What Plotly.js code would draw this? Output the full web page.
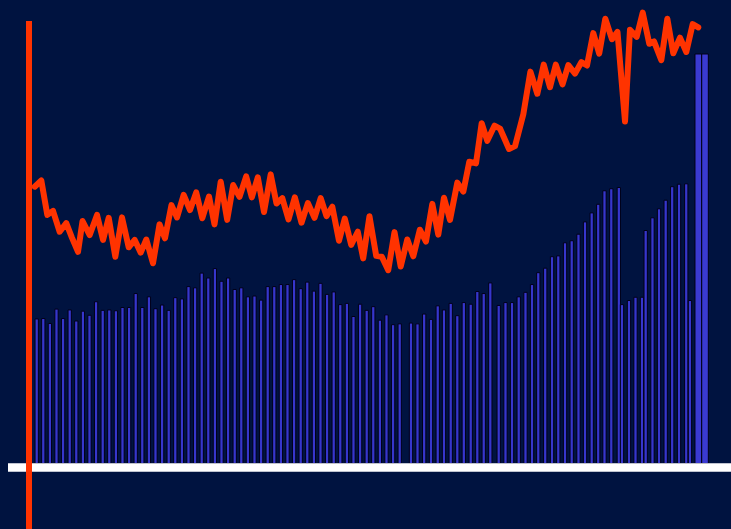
<!DOCTYPE html>
<html>
<head>
<meta charset="utf-8">
<script src="https://cdn.plot.ly/plotly-3.0.1.min.js"></script>
<style>
  html, body { margin: 0; padding: 0; background: #001340; }
  #chart { width: 731px; height: 529px; }
  .scatterlayer path.js-line { stroke-linejoin: round !important; stroke-linecap: round !important; }
</style>
</head>
<body>
<div id="chart"></div>
<script>
// Bar series: sample times (in periods) and values
const barT = [
  0, 1, 2, 3, 4, 5, 6, 7, 8, 9,
  10, 11, 12, 13, 14, 15, 16, 17, 18, 19,
  20, 21, 22, 23, 24, 25, 26, 27, 28, 29,
  30, 31, 32, 33, 34, 35, 36, 37, 38, 39,
  40, 41, 42, 43, 44, 45, 46, 47, 48, 49,
  50, 51, 52, 53, 54, 55, 56.71, 57.70, 58.71, 59.74,
  60.76, 61.71, 62.73, 63.73, 64.71, 65.76, 66.76, 67.73, 68.73, 70.00,
  71.03, 72.02, 73.03, 74.06, 75.05, 76.00, 77.05, 78.08, 79.03, 80.05,
  81.06, 82.09, 83.08, 84.09, 85.08, 86.03, 87.06, 88.20, 88.68, 89.74,
  90.73, 91.71, 92.27, 93.30, 94.29, 95.30, 96.29, 97.32, 98.42, 98.98,
  100.24, 101.26
];
const barValues = [
  35.3, 35.4, 34.2, 37.7, 35.4, 37.5, 34.8, 37.2, 36.2, 39.5,
  37.4, 37.5, 37.3, 38.1, 38.1, 41.5, 38.1, 40.7, 37.8, 38.7,
  37.4, 40.5, 40.2, 43.2, 42.9, 46.5, 45.3, 47.6, 44.5, 45.3,
  42.5, 42.9, 40.7, 40.9, 39.9, 43.2, 43.2, 43.7, 43.7, 44.9,
  42.7, 44.3, 42.1, 44.0, 41.3, 41.9, 38.8, 39.1, 35.9, 38.9,
  37.4, 38.3, 35.0, 36.3, 33.9, 34.1, 34.3, 34.1, 36.5, 35.2,
  38.5, 37.5, 39.1, 36.1, 39.3, 38.9, 42.0, 41.5, 44.1, 38.6,
  39.3, 39.3, 40.7, 41.8, 43.7, 46.6, 47.7, 50.5, 50.7, 53.9,
  54.4, 56.0, 59.0, 61.2, 63.3, 66.6, 67.1, 67.4, 38.8, 39.8,
  40.6, 40.6, 56.9, 60.0, 62.2, 64.3, 67.6, 68.2, 68.3, 39.8,
  100.0, 100.0
];

// Line series: sample times (in periods) and values
const lineT = [
  -0.30, 0.70, 1.61, 2.47, 3.48, 4.48, 5.35, 6.26, 6.94, 8.03,
  9.14, 10.05, 10.91, 11.91, 12.92, 13.94, 14.85, 15.76, 16.61, 17.62,
  18.61, 19.44, 20.42, 21.26, 22.27, 23.23, 24.17, 25.09, 26.11, 26.94,
  27.88, 28.86, 29.77, 30.73, 31.74, 32.59, 33.50, 34.44, 35.45, 36.33,
  37.21, 38.15, 39.11, 40.12, 41.08, 42.09, 43.03, 43.91, 44.79, 45.80,
  46.68, 47.65, 48.65, 49.47, 50.42, 51.44, 52.29, 53.26, 54.21, 55.15,
  56.15, 57.06, 58.05, 58.98, 59.94, 60.85, 61.71, 62.62, 63.73, 64.64,
  65.55, 66.56, 67.42, 68.27, 69.36, 70.20, 71.56, 72.47, 73.73, 74.80,
  75.85, 76.82, 77.77, 78.65, 79.67, 80.55, 81.56, 82.52, 83.38, 84.33,
  85.23, 86.15, 87.17, 88.00, 89.14, 89.89, 90.91, 91.82, 92.82, 93.53,
  94.64, 95.55, 96.45, 97.47, 98.42, 99.39, 100.24
];
const lineValues = [
  67.6, 69.1, 60.7, 61.7, 56.6, 58.7, 55.1, 51.7, 59.2, 55.8,
  60.7, 54.6, 60.0, 50.5, 60.1, 52.8, 54.6, 51.5, 54.7, 48.9,
  58.4, 55.0, 63.1, 60.1, 65.6, 61.9, 66.2, 59.9, 65.2, 58.4,
  68.8, 59.5, 68.0, 65.1, 70.1, 65.0, 69.9, 61.4, 70.6, 63.5,
  64.8, 59.6, 65.0, 58.8, 63.6, 60.0, 64.8, 60.4, 62.7, 54.4,
  59.8, 53.4, 56.6, 50.1, 60.4, 50.7, 50.5, 47.2, 56.5, 48.1,
  54.7, 50.6, 57.1, 54.2, 63.4, 55.9, 64.9, 59.5, 68.6, 66.4,
  73.7, 73.3, 83.1, 78.8, 82.5, 81.8, 76.8, 77.5, 85.3, 95.7,
  90.3, 97.4, 91.9, 97.4, 92.6, 97.3, 95.2, 98.0, 97.2, 105.1,
  100.1, 108.6, 103.6, 105.4, 83.5, 105.9, 104.2, 110.1, 102.5, 103.1,
  98.5, 108.6, 100.2, 104.0, 100.5, 107.3, 106.5
];

const barWidths = barValues.map((_, i) => (i >= 100 ? 1.0 : 0.5));
const barColors = barValues.map((_, i) => (i >= 100 ? '#3a3ad2' : '#3636cc'));

const RED = '#ff3300';

const traces = [
  {
    type: 'bar',
    x: barT,
    y: barValues,
    width: barWidths,
    marker: { color: barColors, line: { color: '#000018', width: 1 } },
    hoverinfo: 'skip'
  },
  {
    type: 'scatter',
    mode: 'lines',
    x: lineT,
    y: lineValues,
    line: { color: RED, width: 6 },
    hoverinfo: 'skip'
  }
];

const layout = {
  width: 731,
  height: 529,
  margin: { l: 0, r: 0, t: 0, b: 0, pad: 0 },
  paper_bgcolor: '#001340',
  plot_bgcolor: '#001340',
  showlegend: false,
  hovermode: false,
  bargap: 0,
  xaxis: {
    range: [-5.561, 105.197],
    showgrid: false, zeroline: false, showticklabels: false, showline: false, ticks: ''
  },
  yaxis: {
    range: [-15.995, 113.19],
    showgrid: false, zeroline: false, showticklabels: false, showline: false, ticks: ''
  },
  shapes: [
    {
      type: 'line', xref: 'paper', yref: 'paper',
      x0: 8 / 731, x1: 1.05, y0: (529 - 467.5) / 529, y1: (529 - 467.5) / 529,
      line: { color: '#ffffff', width: 8.4 }, layer: 'above'
    },
    {
      type: 'line', xref: 'paper', yref: 'paper',
      x0: 29 / 731, x1: 29 / 731, y0: (529 - 21) / 529, y1: -0.05,
      line: { color: RED, width: 6 }, layer: 'above'
    }
  ]
};

Plotly.newPlot('chart', traces, layout, { staticPlot: true, displayModeBar: false });
</script>
</body>
</html>
